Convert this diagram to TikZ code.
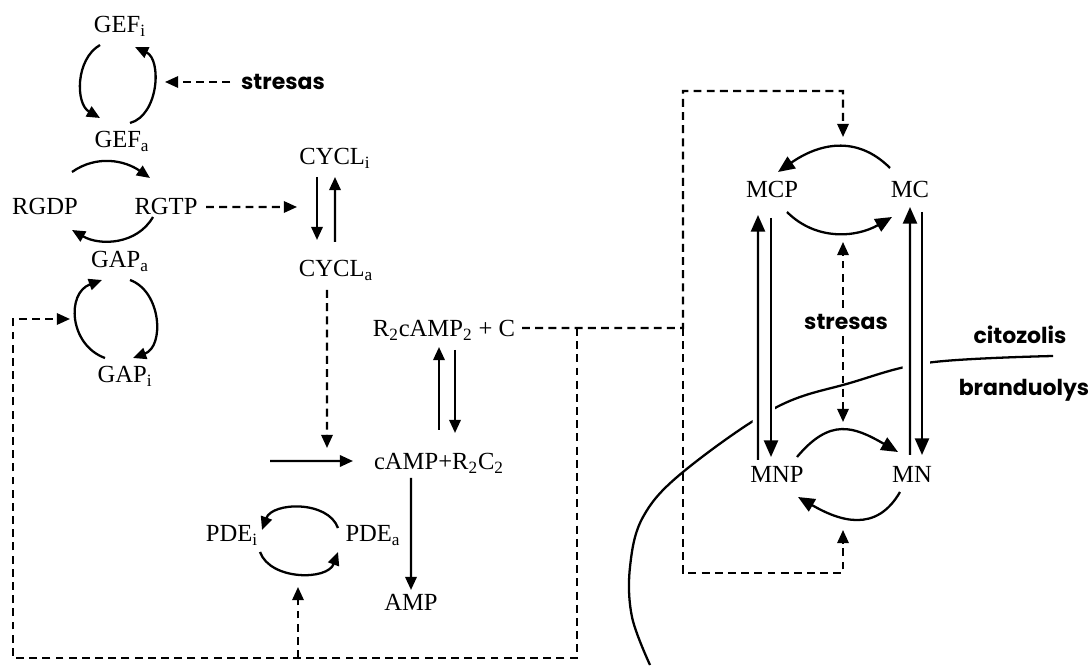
\documentclass[tikz,border=0pt]{standalone}
\usepackage{fontspec}
\setmainfont{Liberation Serif}
\newfontfamily\handfont{Poppins}
\usetikzlibrary{arrows.meta,positioning,calc}

\begin{document}
\begin{tikzpicture}[
    font=\fontsize{14}{16}\selectfont,
    sp/.style={inner sep=1pt, anchor=base},
    hand/.style={font=\handfont\bfseries\fontsize{12.5}{15}\selectfont, inner sep=1pt},
    arr/.style={-{Triangle[length=7.5pt,width=6.5pt]}, line width=1.3pt},
    bigarr/.style={-{Triangle[length=9.5pt,width=8pt]}, line width=1.3pt},
    dasharr/.style={-{Triangle[length=7.5pt,width=6.5pt]}, line width=1.2pt,
                    dash pattern=on 4.5pt off 3pt},
    memb/.style={line width=1.3pt}
]
\useasboundingbox (0,0) rectangle (21.8,-13.32);

%% GEF CYCLE
\node[sp] (gefi) at (2.40,-0.66) {GEF\textsubscript{i}};
\node[sp] (gefa) at (2.44,-2.96) {GEF\textsubscript{a}};
\draw[arr] ([shift={(-0.4,-0.24)}]gefi.base) to[out=210,in=150] ([shift={(-0.44,0.6)}]gefa.base);
\draw[arr] ([shift={(0.16,0.5)}]gefa.base) to[out=15,in=-25] ([shift={(0.3,-0.28)}]gefi.base);

\node[hand] (stres1) at (5.66,-1.64) {stresas};
\coordinate (gefin) at (3.30,-1.64);
\draw[dasharr] ([xshift=-0.18cm]stres1.west) -- (gefin);

%% RAS CYCLE
\node[sp] (rgdp) at (0.90,-4.30) {RGDP};
\node[sp] (rgtp) at (3.32,-4.30) {RGTP};
\draw[arr] ([shift={(0.54,0.86)}]rgdp.base) to[out=35,in=145] ([shift={(-0.32,0.74)}]rgtp.base);
\draw[arr] ([shift={(-0.26,-0.04)}]rgtp.base) to[out=-120,in=-30] ([shift={(0.54,-0.30)}]rgdp.base);

%% GAP CYCLE
\node[sp] (gapa) at (2.40,-5.36) {GAP\textsubscript{a}};
\node[sp] (gapi) at (2.50,-7.66) {GAP\textsubscript{i}};
\draw[arr] ([shift={(-0.4,0.5)}]gapi.base) to[out=160,in=200,looseness=1.25] ([shift={(-0.36,-0.24)}]gapa.base);
\draw[arr] ([shift={(0.2,-0.24)}]gapa.base) to[out=-20,in=20,looseness=1.1] ([shift={(0.16,0.5)}]gapi.base);

%% ADENYLATE CYCLASE
\node[sp] (cycli) at (6.70,-3.30) {CYCL\textsubscript{i}};
\node[sp] (cycla) at (6.72,-5.54) {CYCL\textsubscript{a}};
\coordinate (cycin) at (5.94,-4.14);
\draw[dasharr] ([shift={(0.80,0.16)}]rgtp.base) -- (cycin);
\draw[arr] ([shift={(-0.36,-0.24)}]cycli.base) -- ([shift={(-0.38,0.74)}]cycla.base);
\draw[arr] ([shift={(-0.02,0.70)}]cycla.base) -- ([shift={(0,-0.24)}]cycli.base);

%% cAMP / PKA
\node[sp] (rcamp) at (8.88,-6.74) {R\textsubscript{2}cAMP\textsubscript{2} + C};
\node[sp] (camp) at (8.78,-9.40) {cAMP+R\textsubscript{2}C\textsubscript{2}};
\node[sp] (amp) at (8.22,-12.20) {AMP};
\coordinate (cyctip) at (6.54,-8.96);
\coordinate (srcin) at (5.40,-9.22);
\draw[dasharr] ([shift={(-0.18,-0.26)}]cycla.base) -- (cyctip);
\draw[arr] (srcin) -- ([shift={(-1.72,0.18)}]camp.base);
\draw[arr] ([shift={(0,0.80)}]camp.base) -- ([shift={(-0.10,-0.20)}]rcamp.base);
\draw[arr] ([shift={(0.22,-0.26)}]rcamp.base) -- ([shift={(0.32,0.74)}]camp.base);
\draw[arr] ([shift={(-0.56,-0.16)}]camp.base) -- ([shift={(0,0.40)}]amp.base);

%% PDE CYCLE
\node[sp] (pdei) at (4.64,-10.84) {PDE\textsubscript{i}};
\node[sp] (pdea) at (7.46,-10.84) {PDE\textsubscript{a}};
\draw[arr] ([shift={(-0.7,0.28)}]pdea.base) to[out=110,in=70] ([shift={(0.6,0.24)}]pdei.base);
\draw[arr] ([shift={(0.56,-0.2)}]pdei.base) to[out=-70,in=-110] ([shift={(-0.7,-0.2)}]pdea.base);

%% MSN2/4 SHUTTLE
\node[sp] (mcp) at (15.44,-3.96) {MCP};
\node[sp] (mc) at (18.20,-3.96) {MC};
\node[sp] (mnp) at (15.54,-9.66) {MNP};
\node[sp] (mn) at (18.24,-9.66) {MN};
\draw[bigarr] ([shift={(-0.4,0.6)}]mc.base) to[out=135,in=35,looseness=1.1] ([shift={(0.12,0.52)}]mcp.base);
\draw[bigarr] ([shift={(0.3,-0.28)}]mcp.base) to[out=-45,in=-150] ([shift={(-0.36,-0.38)}]mc.base);
\draw[bigarr] ([shift={(0.4,0.52)}]mnp.base) to[out=50,in=150,looseness=1.3] ([shift={(-0.28,0.62)}]mn.base);
\draw[bigarr] ([shift={(-0.24,-0.18)}]mn.base) to[out=-120,in=-30,looseness=1.2] ([shift={(0.42,-0.28)}]mnp.base);
\draw[bigarr] ([shift={(-0.38,0.46)}]mnp.base) -- ([shift={(-0.28,-0.34)}]mcp.base);
\draw[bigarr] ([shift={(-0.02,-0.40)}]mcp.base) -- ([shift={(-0.12,0.52)}]mnp.base);
\draw[bigarr] ([shift={(-0.04,0.56)}]mn.base) -- ([shift={(0,-0.18)}]mc.base);
\draw[bigarr] ([shift={(0.24,-0.28)}]mc.base) -- ([shift={(0.20,0.56)}]mn.base);

\node[hand] (stres2) at (16.92,-6.44) {stresas};
\coordinate (mcloop) at (16.86,-4.84);
\coordinate (mnloop) at (16.86,-8.44);
\draw[dasharr] ([shift={(-0.06,0.28)}]stres2.center) -- (mcloop);
\draw[dasharr] ([shift={(-0.06,-0.28)}]stres2.center) -- (mnloop);

\node[hand] (cito) at (20.40,-6.70) {citozolis};
\node[hand] (brand) at (20.48,-7.80) {branduolys};

%% NUCLEAR MEMBRANE
\begin{scope}[even odd rule]
\clip (0,0) rectangle (21.8,-13.32)
    (15.05,-7.9) rectangle (15.5,-8.7) (18.05,-6.9) rectangle (18.6,-7.6);
\draw[memb] plot[smooth, tension=0.6] coordinates {(21.06,-7.12) (18.6,-7.25)
    (17.0,-7.66) (15.5,-8.16) (13.66,-9.44) (12.86,-10.34) (12.6,-11.34)
    (12.64,-12.34) (13.0,-13.3)};
\end{scope}

%% PKA FEEDBACK (dashed)
\coordinate (jl) at (11.54,-6.56);
\coordinate (jr) at (13.66,-6.56);
\coordinate (mctop) at (16.86,-2.74);
\coordinate (mnbot) at (16.86,-10.60);
\coordinate (botr) at (11.54,-13.16);
\coordinate (botl) at (0.26,-13.16);
\coordinate (gapin) at (1.40,-6.38);
\coordinate (pdebot) at (5.96,-11.74);
\draw[dasharr] ([shift={(1.56,0.18)}]rcamp.base) -- (jr) |- ([yshift=0.92cm]mctop) -- (mctop);
\draw[dasharr] (jr) |- ([yshift=-0.86cm]mnbot) -- (mnbot);
\draw[dasharr] (jl) -- (botr) -- (botl) |- (gapin);
\draw[dasharr] (pdebot |- botl) -- (pdebot);

\end{tikzpicture}
\end{document}
